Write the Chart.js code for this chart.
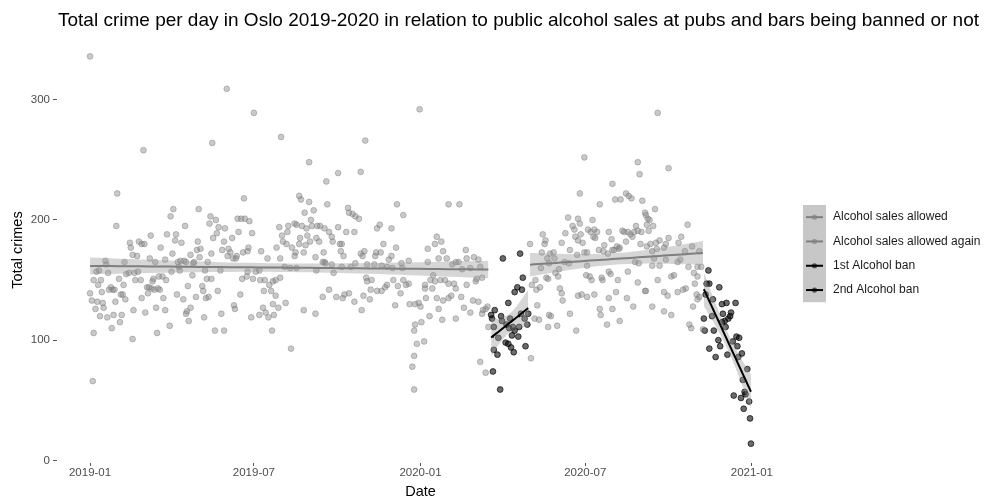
<!DOCTYPE html>
<html>
<head>
<meta charset="utf-8">
<script src="https://cdn.jsdelivr.net/npm/chart.js@4.4.1/dist/chart.umd.min.js"></script>
<style>
  html, body { margin: 0; padding: 0; background: #ffffff; }
  #wrap { width: 1003px; height: 500px; position: relative; }
</style>
</head>
<body>
<div id="wrap"><canvas id="chart" width="1003" height="500"></canvas></div>
<script>
// Daily crime counts, Oslo 2019-2020. Days are counted from 2019-01-01.
const startDate = [2019, 0, 1];
const titleText = 'Total crime per day in Oslo 2019-2020 in relation to public alcohol sales at pubs and bars being banned or not';
const xTitle = 'Date';
const yTitle = 'Total crimes';
const xTickLabels = ['2019-01', '2019-07', '2020-01', '2020-07', '2021-01'];
const yTickValues = [0, 100, 200, 300];
const seriesNames = ['Alcohol sales allowed', 'Alcohol sales allowed again', '1st Alcohol ban', '2nd Alcohol ban'];

// Alcohol sales allowed (2019-01-01 to mid March 2020)
const allowedDay = [
  0,151,135,59,30,170,29,92,89,120, 133,132,139,105,163,167,171,176,67,85,
  95,94,101,119,142,149,136,140,157,153, 148,146,164,44,45,54,60,57,78,47,
  52,38,66,91,100,97,99,104,118,122, 121,111,134,155,161,169,174,152,158,162,
  17,18,10,7,4,12,20,0,2,9, 13,21,23,25,27,32,40,43,49,53,
  50,56,37,34,36,39,28,8,14,15, 6,11,19,26,35,33,24,4,47,3,
  57,61,48,63,65,68,71,75,77,64, 69,70,76,80,74,73,83,81,88,96,
  103,108,113,84,90,98,106,114,111,107, 106,109,117,124,125,128,131,126,129,134,
  127,141,138,148,145,144,166,159,160,168, 173,174,178,72,83,115,130,
  181,211,304,242,274,299,261,231,233,242, 262,339,346,237,247,285,286,290,293,297,
  226,228,234,239,245,244,251,254,259,264, 209,219,218,179,212,213,217,223,240,243,
  250,253,232,231,238,267,268,274,283,292, 317,320,333,276,278,277,280,175,189,196,
  206,210,227,236,226,249,258,259,257,299, 303,301,316,321,324,315,330,333,338,344,
  352,183,187,193,180,188,215,221,228,250, 260,267,269,278,288,293,306,314,322,328,
  334,345,202,205,210,198,200,205,192,191, 187,194,197,203,202,208,216,201,222,236,
  249,257,264,272,279,281,286,292,302,300, 309,305,306,311,310,317,322,328,326,335,
  337,340,343,346,349,353,352,359,358,358, 356,358,361,359,
  364,396,408,383,381,388,373,385,390,394, 373,379,381,400,404,407,415,416,424,429,
  431,420,411,376,378,370,370,387,392,396, 402,404,416,426,433,427,363,365,371,383,
  390,396,399,410,413,423,429,434,437,439, 375,385,404,389,420,433,366,369,431,437,
  440
];
const allowedCrimes = [
  336,309,264,258,222,218,195,209,203,209, 203,197,200,195,201,201,201,199,187,188,
  188,183,181,182,194,193,185,189,185,176, 182,175,190,181,177,182,180,180,177,171,
  170,165,168,172,166,165,158,166,175,176, 169,171,172,173,168,173,174,170,168,170,
  166,163,158,157,150,150,156,139,133,146, 140,142,144,142,142,151,155,156,156,157,
  150,150,146,138,138,134,132,132,131,127, 126,120,119,121,121,115,110,106,101,66,
  135,123,125,144,144,143,142,143,142,139, 149,151,153,153,106,127,125,135,112,138,
  134,145,154,150,157,161,165,164,127,124, 122,116,136,145,141,135,136,119,151,151,
  158,141,108,108,122,158,138,129,126,151, 153,157,119,165,167,165,165,
  289,269,266,248,239,240,232,220,217,215, 213,213,204,206,208,210,206,205,203,201,
  197,196,195,193,195,200,195,195,193,190, 194,195,190,189,187,182,180,177,187,182,
  185,182,185,180,179,186,182,194,190,190, 193,196,193,180,180,174,170,177,174,168,
  177,168,173,173,170,169,173,165,165,172, 174,170,173,173,180,170,167,170,177,164,
  166,157,158,150,151,150,161,160,160,158, 164,163,156,161,161,164,163,163,162,161,
  160,160,149,150,152,146,141,137,141,127, 121,123,119,121,130,127,131,108,93,125,
  122,136,142,136,135,138,139,132,137,125, 134,152,149,150,142,141,141,146,144,150,
  129,145,139,150,146,130,147,113,108,87, 78,59,97,130,
  292,213,213,186,180,182,176,168,174,168, 165,154,149,163,165,165,175,168,169,167,
  161,160,159,150,143,146,143,150,150,147, 147,143,146,149,152,151,131,128,135,135,
  133,135,137,136,127,133,132,125,126,128, 120,126,118,117,123,122,115,99,82,73,
  111
];

// 1st alcohol ban (spring 2020)
const ban1Day = [
  456,475,478,472,477,462,469,447,443,444, 454,455,446,460,464,467,469,474,476,484,
  483,480,463,473,466,451,459,462,465,468, 446,450,481,445,453
];
const ban1Crimes = [
  168,172,152,144,142,131,140,125,121,118, 120,116,111,113,118,111,108,111,122,122,
  113,118,110,103,104,102,98,97,94,90, 92,88,95,74,59
];

// Alcohol sales allowed again (late April to early November 2020)
const againDay = [
  486,487,488,492,493,491,496,494,497,500, 503,502,499,505,508,512,507,513,498,504,
  506,514,518,517,519,521,522,530,506,516, 509,507,537,521,525,528,533,535,536,539,
  530,524,529,538,542,
  627,546,639,605,607,577,580,586,592,595, 598,610,541,563,613,614,616,624,618,539,
  541,555,550,553,557,560,544,549,546,558, 556,573,576,577,588,590,594,597,601,605,
  603,609,617,622,615,619,625,629,634,636, 639,650,653,660,582,584,585,592,599,608,
  579,568,567,572,562,615,621,626,549,552, 554,548,565,566,573,575,583,594,602,605,
  606,614,627,629,621,623,636,642,645,649, 652,657,661,665,667,671,673,634,638,539,
  543,549,557,573,581,593,613,649,655,658, 666,670,671,673,668,671,675,563,564,577,
  571,585,600,621,634,642,662,664,677
];
const againCrimes = [
  180,85,146,150,142,118,117,129,144,188, 183,180,173,168,172,173,164,168,160,152,
  151,156,159,153,143,139,133,122,111,112, 120,121,108,181,189,202,195,192,186,183,
  175,165,164,171,188,
  289,252,243,248,238,230,217,217,222,220, 218,216,222,213,206,204,201,209,200,201,
  197,200,192,190,192,190,181,173,173,185, 186,190,184,175,191,190,190,188,190,191,
  195,190,191,195,196,180,181,183,177,180, 185,181,186,196,178,176,177,182,186,180,
  175,179,174,172,175,178,174,176,162,153, 150,154,152,150,157,155,150,157,165,148,
  164,141,150,162,162,168,167,153,154,165, 167,174,161,178,156,161,174,140,137,137,
  138,136,138,135,140,135,141,140,142,143, 128,138,134,136,147,153,161,126,121,126,
  113,116,128,128,124,121,113,110,109
];

// 2nd alcohol ban (from November 2020)
const ban2Day = [
  683,681,684,695,680,688,678,687,698,703, 713,708,699,705,707,701,702,698,689,679,
  710,714,717,694,696,684,715,704,720,691, 716,726,721,711,723,719,724,728,722,729,
  730
];
const ban2Crimes = [
  158,147,147,144,138,134,118,120,130,131, 131,123,122,118,120,116,111,115,108,108,
  99,103,102,100,95,93,95,88,89,86, 86,76,67,54,57,52,55,49,43,35,
  14
];

// ---------------------------------------------------------------------------
const FONT = '"Liberation Sans", Arial, Helvetica, sans-serif';
const DAY_MS = 86400000;
const origin = Date.UTC(startDate[0], startDate[1], startDate[2]);
const dayOfLabel = (lbl) => {
  const [y, m] = lbl.split('-').map(Number);
  return Math.round((Date.UTC(y, m - 1, 1) - origin) / DAY_MS);
};
const xTickDays = xTickLabels.map(dayOfLabel);

const groups = [
  { name: seriesNames[0], days: allowedDay, vals: allowedCrimes, colour: [127, 127, 127] },
  { name: seriesNames[1], days: againDay, vals: againCrimes, colour: [127, 127, 127] },
  { name: seriesNames[2], days: ban1Day, vals: ban1Crimes, colour: [0, 0, 0] },
  { name: seriesNames[3], days: ban2Day, vals: ban2Crimes, colour: [0, 0, 0] }
];
const rgba = (c, a) => `rgba(${c[0]},${c[1]},${c[2]},${a})`;

// Ordinary least squares fit with a 95% confidence band for the mean.
function linearFit(xs, ys, steps) {
  const n = xs.length;
  const mx = xs.reduce((s, v) => s + v, 0) / n;
  const my = ys.reduce((s, v) => s + v, 0) / n;
  let sxx = 0, sxy = 0;
  for (let i = 0; i < n; i++) { sxx += (xs[i] - mx) ** 2; sxy += (xs[i] - mx) * (ys[i] - my); }
  const b = sxy / sxx, a = my - b * mx;
  let sse = 0;
  for (let i = 0; i < n; i++) sse += (ys[i] - a - b * xs[i]) ** 2;
  const df = n - 2, s = Math.sqrt(sse / df);
  const z = 1.959964;
  const t = z + (z ** 3 + z) / (4 * df) + (5 * z ** 5 + 16 * z ** 3 + 3 * z) / (96 * df * df);
  const x0 = Math.min(...xs), x1 = Math.max(...xs);
  const line = [], upper = [], lower = [];
  for (let k = 0; k <= steps; k++) {
    const x = x0 + (x1 - x0) * k / steps;
    const y = a + b * x;
    const se = s * Math.sqrt(1 / n + (x - mx) ** 2 / sxx);
    line.push({ x, y });
    upper.push({ x, y: y + t * se });
    lower.push({ x, y: y - t * se });
  }
  return { line, upper, lower };
}

const pointStyle = [
  { fill: 0.42, edge: 0.5 },   // allowed groups (grey)
  { fill: 0.58, edge: 0.75 }   // ban groups (black)
];

const datasets = [];
groups.forEach((g, gi) => {
  const st = pointStyle[gi < 2 ? 0 : 1];
  datasets.push({
    label: g.name,
    data: g.days.map((d, i) => ({ x: d, y: g.vals[i] })),
    showLine: false,
    pointRadius: 2.9,
    pointBorderWidth: 0.9,
    pointBackgroundColor: rgba(g.colour, st.fill),
    pointBorderColor: rgba(g.colour, st.edge),
    order: 3
  });
});
groups.forEach((g) => {
  const fit = linearFit(g.days, g.vals, 40);
  datasets.push({
    label: g.name + ' upper',
    data: fit.upper, pointRadius: 0, borderWidth: 0, fill: false, order: 2
  });
  datasets.push({
    label: g.name + ' lower',
    data: fit.lower, pointRadius: 0, borderWidth: 0,
    fill: '-1', backgroundColor: 'rgba(153,153,153,0.4)', order: 2
  });
  datasets.push({
    label: g.name + ' fit',
    data: fit.line, pointRadius: 0, borderWidth: 2,
    borderColor: rgba(g.colour, 1), fill: false, order: 1
  });
});

// ggplot-style 5% expansion of the data ranges
const allDays = groups.flatMap(g => g.days);
const allVals = groups.flatMap(g => g.vals);
const dMin = Math.min(...allDays), dMax = Math.max(...allDays);
const vMin = Math.min(...allVals), vMax = Math.max(...allVals);
const dPad = (dMax - dMin) * 0.05, vPad = (vMax - vMin) * 0.05;

// Title, axis titles and legend
const decor = {
  id: 'decor',
  afterDraw(chart) {
    const { ctx, chartArea: a } = chart;
    ctx.save();
    ctx.fillStyle = '#000000';
    ctx.textBaseline = 'middle';
    ctx.textAlign = 'left';
    ctx.font = `19px ${FONT}`;
    ctx.fillText(titleText, a.left + 1, 21);

    ctx.font = `14.5px ${FONT}`;
    ctx.textAlign = 'center';
    ctx.fillText(xTitle, (a.left + a.right) / 2, 492);
    ctx.save();
    ctx.translate(18, (a.top + a.bottom) / 2);
    ctx.rotate(-Math.PI / 2);
    ctx.fillText(yTitle, 0, 0);
    ctx.restore();

    // legend
    const lx = 803, ly = 205, kw = 23, kh = 24.3;
    ctx.fillStyle = 'rgba(153,153,153,0.55)';
    ctx.fillRect(lx, ly, kw, kh * groups.length);
    ctx.font = `12px ${FONT}`;
    ctx.textAlign = 'left';
    groups.forEach((g, i) => {
      const cy = ly + kh * (i + 0.5);
      ctx.strokeStyle = rgba(g.colour, 1);
      ctx.lineWidth = 2;
      ctx.beginPath();
      ctx.moveTo(lx + 3, cy);
      ctx.lineTo(lx + kw - 3, cy);
      ctx.stroke();
      ctx.fillStyle = rgba(g.colour, 0.6);
      ctx.beginPath();
      ctx.arc(lx + kw / 2, cy, 2.6, 0, Math.PI * 2);
      ctx.fill();
      ctx.fillStyle = '#1a1a1a';
      ctx.fillText(g.name, 833, cy);
    });
    ctx.restore();
  }
};

new Chart(document.getElementById('chart'), {
  type: 'line',
  data: { datasets },
  plugins: [decor],
  options: {
    responsive: false,
    animation: false,
    events: [],
    layout: { padding: { left: 0, right: 219, top: 37, bottom: 0 } },
    plugins: { legend: { display: false }, title: { display: false }, tooltip: { enabled: false } },
    scales: {
      x: {
        type: 'linear',
        min: dMin - dPad,
        max: dMax + dPad,
        afterFit: (s) => { s.height = 37; },
        afterBuildTicks: (axis) => { axis.ticks = xTickDays.map(v => ({ value: v })); },
        ticks: {
          autoSkip: false, maxRotation: 0, minRotation: 0, padding: 0,
          color: '#4d4d4d', font: { family: FONT, size: 11.5 },
          callback: (v) => xTickLabels[xTickDays.indexOf(v)]
        },
        grid: { drawOnChartArea: false, drawTicks: true, tickLength: 3, color: '#555555', lineWidth: 1 },
        border: { display: false }
      },
      y: {
        type: 'linear',
        min: vMin - vPad,
        max: vMax + vPad,
        afterFit: (s) => { s.width = 57; },
        afterBuildTicks: (axis) => { axis.ticks = yTickValues.map(v => ({ value: v })); },
        ticks: {
          padding: 3, color: '#4d4d4d', font: { family: FONT, size: 11.5 },
          callback: (v) => String(v)
        },
        grid: { drawOnChartArea: false, drawTicks: true, tickLength: 4, color: '#555555', lineWidth: 1 },
        border: { display: false }
      }
    }
  }
});
</script>
</body>
</html>
